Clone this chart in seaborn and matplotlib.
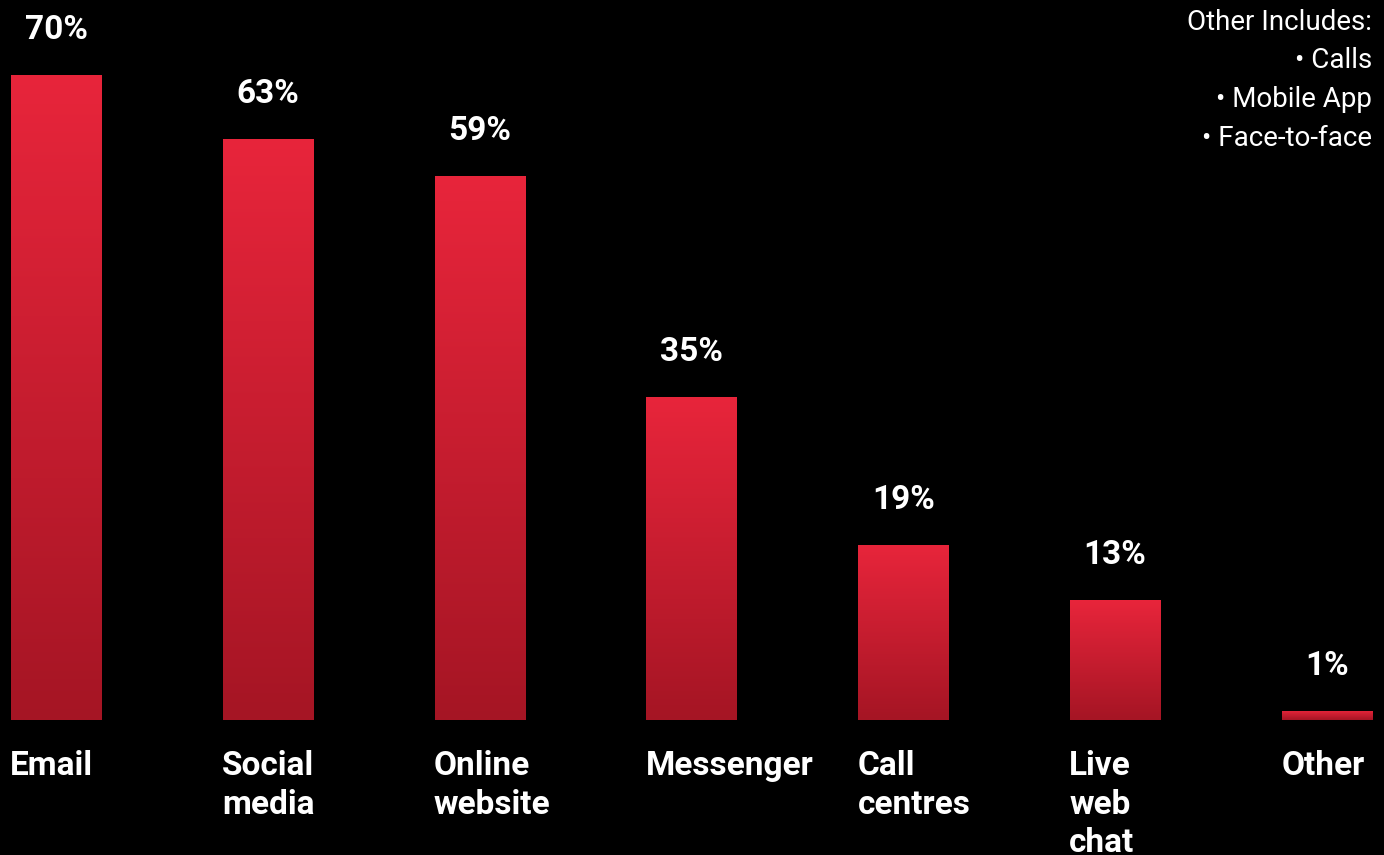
import numpy as np
import pandas as pd
import matplotlib
matplotlib.use("Agg")
import matplotlib.pyplot as plt
import seaborn as sns
from matplotlib.colors import LinearSegmentedColormap
import matplotlib.transforms as mtransforms

categories = ["Email", "Social\nmedia", "Online\nwebsite", "Messenger", "Call\ncentres", "Live\nweb\nchat", "Other"]
values = [70, 63, 59, 35, 19, 13, 1]
value_labels = ["70%", "63%", "59%", "35%", "19%", "13%", "1%"]
note_lines = ["Other Includes:", "• Calls", "• Mobile App", "• Face-to-face"]

top_color = "#E8253B"
bottom_color = "#A51524"

sns.set_theme(style="white")
plt.rcParams['font.family'] = ['Roboto', 'DejaVu Sans']

df = pd.DataFrame({"cat": categories, "val": values})

fig = plt.figure(figsize=(13.84, 8.55), dpi=100, facecolor="black")
ax = fig.add_axes([0, 0, 1, 1])
ax.set_facecolor("black")

sns.barplot(data=df, x="cat", y="val", ax=ax, width=0.425, color=top_color, saturation=1)

cmap = LinearSegmentedColormap.from_list("g", [bottom_color, top_color])
grad = np.linspace(0, 1, 256).reshape(-1, 1)
for p in ax.patches:
    x0, y0 = p.get_x(), p.get_y()
    w, h = p.get_width(), p.get_height()
    im = ax.imshow(grad, cmap=cmap, origin="lower", aspect="auto",
                   extent=[x0, x0 + w, y0, y0 + h], zorder=p.get_zorder())
    im.set_clip_path(p)
    p.set_facecolor("none")
    p.set_edgecolor("none")
ax.set_xlim(-0.2644, 6.270)
ax.set_ylim(-14.64, 78.1)

for p, lab in zip(ax.patches, value_labels):
    cx = p.get_x() + p.get_width() / 2
    ax.annotate(lab, (cx, p.get_height()), xytext=(0, 26), textcoords="offset points",
                ha="center", va="baseline", color="white", fontsize=24, fontweight="bold")

trans = mtransforms.blended_transform_factory(ax.transData, ax.transAxes)
for p, cat in zip(ax.patches, categories):
    ax.text(p.get_x() - 0.003, 1 - 750 / 855, cat, transform=trans, ha="left", va="top",
            color="white", fontsize=24, fontweight="bold", linespacing=1.27)

for i, line in enumerate(note_lines):
    fig.text(1372 / 1384, 1 - (30 + i * 38.5) / 855, line, ha="right", va="baseline",
             color="white", fontsize=20)

ax.set_xticks([])
ax.set_yticks([])
ax.set_xlabel("")
ax.set_ylabel("")
for s in ax.spines.values():
    s.set_visible(False)

fig.savefig("out.png", dpi=100, facecolor="black")
